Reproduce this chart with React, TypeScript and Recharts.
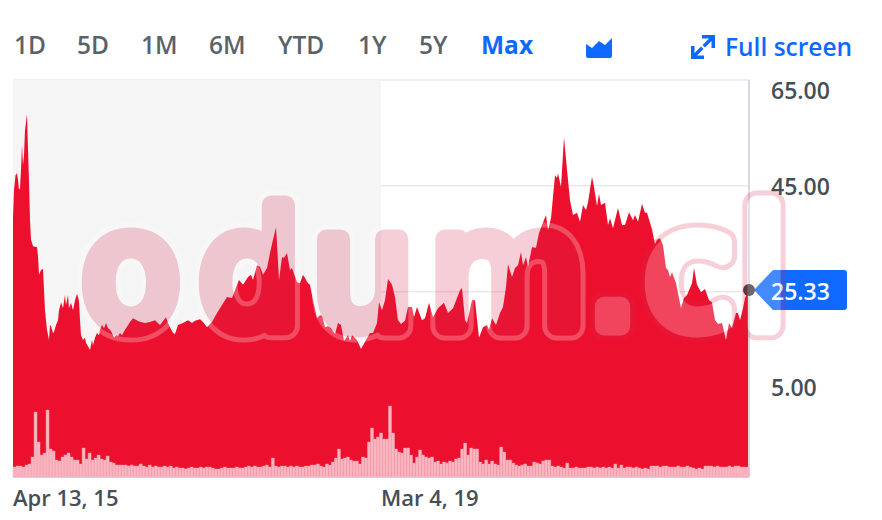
import React from "react";
import {
  Area,
  AreaChart,
  Bar,
  BarChart,
  CartesianGrid,
  ReferenceArea,
  ReferenceDot,
  XAxis,
  YAxis,
} from "recharts";

const RANGES = ["1D", "5D", "1M", "6M", "YTD", "1Y", "5Y", "Max"];
const RANGE_LEFT = [14, 77, 141, 209, 278, 358, 419, 481];
const PRICE_TICKS = [65, 45, 25, 5];
const PERIOD_TICKS = [0, 368];
const PERIOD_LABELS = ["Apr 13, 15", "Mar 4, 19"];

// one period is about four calendar days
const periods = [
  0, 1, 2.5, 4, 5, 6, 7, 8, 9, 10, 11, 12, 14, 15, 16, 17, 18, 20, 24, 25, 26, 28, 30, 31, 32, 33, 34, 36, 37, 38,
  40, 41, 43, 45, 46, 48, 49, 50, 52, 53, 55, 56, 58, 60, 62, 64, 66, 67, 68, 70, 72, 73, 75, 77, 79, 80, 82, 84, 86, 87,
  89, 91, 93, 95, 97, 99, 101, 103, 105, 107, 109, 112, 117, 120, 126, 132, 137, 142, 147, 153, 155, 157, 160, 162, 165, 170, 175, 179, 182, 187,
  190, 194, 199, 204, 209, 214, 219, 222, 226, 230, 235, 238, 240, 244, 247, 250, 254, 257, 260, 263, 264, 266, 269, 271, 274, 277, 279, 284, 287, 290,
  295, 297, 300, 304, 307, 309, 312, 315, 318, 322, 325, 328, 331, 335, 337, 339, 344, 348, 354, 357, 360, 364, 366, 369, 372, 375, 379, 382, 385, 388,
  392, 395, 399, 401, 404, 409, 412, 416, 420, 425, 431, 435, 440, 446, 447, 449, 452, 454, 459, 462, 466, 470, 474, 476, 479, 483, 487, 490, 493, 495,
  499, 502, 505, 508, 510, 513, 515, 519, 523, 526, 529, 533, 535, 538, 542, 544, 545, 548, 551, 554, 557, 560, 564, 567, 570, 573, 575, 579, 581, 584,
  586, 588, 592, 595, 597, 600, 605, 609, 612, 616, 620, 622, 625, 629, 632, 634, 639, 642, 644, 647, 650, 653, 655, 657, 659, 663, 668, 671, 674, 679,
  681, 684, 688, 692, 696, 699, 702, 705, 709, 713, 716, 719, 723, 725, 727, 730, 732, 736,
];

const closes = [
  39, 44.2, 47, 47.4, 46.1, 44.2, 44.6, 48, 52.7, 48.9, 50.8, 55.5, 58.6, 51.8, 46.1, 38.5, 34.8, 33.6, 33.4, 31.7, 28.2, 29.1, 29.3, 25.3, 21.5, 19.6, 17.8, 15.9, 18.7, 18.5,
  17.2, 17.4, 18.7, 19.6, 21.5, 22.9, 22.5, 21.9, 24.4, 22.5, 24.4, 21.9, 22.9, 21.5, 23.4, 24.6, 23.4, 19.6, 16.8, 15.9, 16.3, 15.3, 14.7, 14, 15.9, 14.9, 16.3, 17.2, 16.8, 17.8,
  18.7, 18.1, 19.1, 18.1, 17.8, 17.2, 16.3, 16.8, 16.6, 17.2, 16.8, 17.8, 19.3, 20, 19.4, 19.1, 19.3, 19.6, 18.7, 20.2, 19.1, 18.3, 17.2, 17, 18.7, 19.1, 19.6, 19.1, 19.5, 19.8,
  19.3, 18.3, 19.3, 21, 22.5, 24, 23.8, 25.3, 27.2, 26.3, 27.8, 28.2, 27.2, 30, 29.7, 28.2, 29.5, 32.3, 34.8, 37.2, 34.2, 27.2, 31.5, 31.4, 32.3, 29.1, 29.5, 26.8, 26.6, 28.2,
  26.6, 26.3, 23.4, 20, 20.6, 20.4, 18.3, 18.5, 18.1, 17, 19.1, 18.7, 15.7, 16.8, 15.7, 16.8, 15.9, 14.2, 16.2, 17.2, 17.2, 19.1, 23, 21.5, 23.4, 27.4, 26.3, 24, 19.6, 18.9,
  19.5, 22.1, 22.1, 20.2, 22.1, 19.6, 20, 22.9, 20.2, 21.9, 22.9, 21, 21.9, 24.8, 25.3, 25.7, 19.6, 19.1, 23.4, 23.4, 16.3, 18.3, 18.7, 17.8, 20, 18.7, 21, 22.1, 25.9, 30.2,
  27.8, 29.5, 30, 32.5, 30, 31.5, 29.7, 33.4, 33.3, 36.1, 37.6, 39.5, 36.6, 38.9, 47, 46.5, 47.4, 44.8, 54.2, 48, 42.3, 39.5, 39.9, 38.2, 41.4, 40.4, 41.9, 46.7, 44.8, 41.2,
  43.5, 41.4, 41.8, 37.6, 38.9, 37, 40.8, 37.6, 37.6, 40, 38.5, 39.5, 38.2, 41.6, 39.9, 39.9, 36.8, 34, 34.8, 35.1, 33.8, 29.5, 29.1, 27.8, 28.7, 26.6, 21.9, 23.8, 24.4, 26.6,
  29.5, 26.3, 24.9, 25.5, 23.4, 23, 19.6, 18.9, 19.1, 15.9, 19.1, 18.1, 21, 21, 19.6, 21.9, 23.8, 25.33,
];

// volume in 100k shares, one bar per three periods
const volumes = [
  10, 11, 11, 10, 12, 13, 20, 65, 35, 22, 24, 67, 28, 26, 17, 16, 20, 22, 24, 20, 17, 17, 13, 29, 18, 24, 17, 19, 22, 18,
  17, 21, 15, 14, 12, 12, 12, 12, 11, 12, 11, 11, 13, 11, 10, 12, 10, 11, 10, 10, 11, 10, 11, 9, 10, 9, 9, 8, 9, 10,
  9, 9, 10, 9, 10, 10, 9, 8, 8, 9, 10, 9, 9, 9, 10, 9, 9, 10, 11, 10, 11, 10, 10, 11, 12, 10, 19, 11, 10, 11,
  11, 10, 11, 10, 11, 10, 10, 11, 11, 12, 12, 13, 11, 10, 13, 12, 15, 19, 28, 18, 19, 20, 17, 16, 16, 13, 20, 19, 35, 49,
  38, 40, 44, 38, 38, 71, 44, 28, 25, 24, 29, 29, 22, 14, 20, 27, 22, 20, 19, 20, 15, 16, 13, 15, 14, 16, 15, 18, 19, 28,
  34, 22, 29, 28, 28, 15, 13, 17, 13, 16, 13, 12, 30, 25, 17, 17, 14, 12, 11, 12, 13, 11, 11, 15, 14, 13, 16, 17, 17, 11,
  10, 11, 10, 9, 14, 9, 9, 10, 9, 9, 9, 10, 10, 9, 10, 9, 10, 9, 10, 9, 13, 9, 12, 9, 10, 10, 9, 10, 9, 8,
  9, 8, 11, 11, 11, 10, 11, 11, 10, 10, 10, 11, 10, 10, 11, 10, 9, 8, 9, 8, 11, 11, 11, 10, 11, 10, 10, 10, 11, 10,
  11, 11, 10, 10, 10,
];

const priceRows = periods.map((period, i) => ({ period, close: closes[i] }));
const volumeRows = volumes.map((volume, i) => ({ bar: i, volume }));

const SANS = '"Open Sans", "Noto Sans", sans-serif';
const BLUE = "#0f69ff";
const RED = "#ec102e";
const MARGIN = { top: 80, right: 0, bottom: 0, left: 13 };
const labelOffset: Record<number, number> = { 65: 10, 45: 0, 25: 0, 5: -11 };

const PriceTick = ({ x, y, payload }: any) =>
  payload.value === 25 ? null : (
    <text
      x={x + 14}
      y={y + labelOffset[payload.value]}
      dominantBaseline="central"
      fontFamily={SANS}
      fontSize={23}
      fontWeight={600}
      fill="#464e56"
    >
      {payload.value.toFixed(2)}
    </text>
  );

const PeriodTick = ({ x, y, payload, index }: any) => (
  <text x={x} y={y + 21} fontFamily={SANS} fontSize={22} fontWeight={600} fill="#464e56">
    {PERIOD_LABELS[index] ?? payload.value}
  </text>
);

const LastFlag = ({ cx, cy }: any) => (
  <g>
    <path
      d={`M${cx + 5} ${cy} L${cx + 24} ${cy - 20} H${cx + 95} a3 3 0 0 1 3 3 V${cy + 17} a3 3 0 0 1 -3 3 H${cx + 24} Z`}
      fill={BLUE}
    />
    <text
      x={cx + 22}
      y={cy + 1}
      dominantBaseline="central"
      fontFamily={SANS}
      fontSize={23}
      fontWeight={600}
      fill="#fff"
    >
      {closes[closes.length - 1].toFixed(2)}
    </text>
    <circle cx={cx} cy={cy} r={6} fill="#46393d" />
  </g>
);

const WM_FONT = { fontFamily: '"DejaVu Sans"', fontSize: 158, strokeLinejoin: "round" as const };
const WM_LEFT = "82.5 199.5 313 430.5";
const WM_LEFT2 = "587.5 645.5 742";
const WM_Y = 325.5;
const WM_BODY = 19;
const WM_HALO = 29;

const Watermark = () => (
  <svg width={882} height={520} style={{ position: "absolute", left: 0, top: 0, pointerEvents: "none" }}>
    <defs>
      <mask id="wmOutside" maskUnits="userSpaceOnUse" x={0} y={0} width={882} height={520}>
        <rect width={882} height={520} fill="#fff" />
        <text {...WM_FONT} x={WM_LEFT} y={WM_Y} fill="#000" stroke="#000" strokeWidth={WM_BODY}>odum</text>
        <text {...WM_FONT} x={WM_LEFT2} y={WM_Y} fill="#000" stroke="#000" strokeWidth={WM_BODY}>.cl</text>
      </mask>
    </defs>
    <g mask="url(#wmOutside)">
      <g opacity={0.25}>
        <text {...WM_FONT} x={WM_LEFT} y={WM_Y} fill="none" stroke="#fff" strokeWidth={WM_HALO}>odum</text>
      </g>
      <g opacity={0.22}>
        <text {...WM_FONT} x={WM_LEFT2} y={WM_Y} fill="none" stroke="#da244d" strokeWidth={WM_HALO}>.cl</text>
      </g>
    </g>
    <g opacity={0.22}>
      <text {...WM_FONT} x={WM_LEFT} y={WM_Y} fill="#da244d" stroke="#da244d" strokeWidth={WM_BODY}>odum</text>
    </g>
    <g opacity={0.22}>
      <text {...WM_FONT} x={WM_LEFT2} y={WM_Y} fill="#fff" stroke="#fff" strokeWidth={WM_BODY}>.cl</text>
    </g>
  </svg>
);

const RangeBar = () => (
  <div style={{ fontFamily: SANS, fontSize: 24.5, fontWeight: 600, lineHeight: "32px" }}>
    {RANGES.map((r, i) => (
      <span
        key={r}
        style={{
          position: "absolute",
          left: RANGE_LEFT[i],
          top: 29,
          color: r === "Max" ? BLUE : "#5b636a",
          fontWeight: r === "Max" ? 700 : 600,
        }}
      >
        {r}
      </span>
    ))}
    <span style={{ position: "absolute", left: 725, top: 31, color: BLUE }}>Full screen</span>
    <svg width={882} height={70} style={{ position: "absolute", left: 0, top: 0 }}>
      <path d="M586 44 L592 48 L599 41 L605 45 L612 38 V56 a2 2 0 0 1 -2 2 H588 a2 2 0 0 1 -2 -2 Z" fill={BLUE} />
      <path
        d="M702 35 H715 V48 H711.5 V41 L705 47.5 L702.5 45 L709 38.5 H702 Z M704 59 H691 V46 H694.5 V53 L701 46.5 L703.5 49 L697 55.5 H704 Z"
        fill={BLUE}
      />
    </svg>
  </div>
);

export default function App() {
  return (
    <div style={{ position: "absolute", left: 0, top: 0, width: 882, height: 520, overflow: "hidden" }}>
      <RangeBar />
      <AreaChart width={882} height={520} data={priceRows} margin={MARGIN} style={{ position: "absolute", left: 0, top: 0 }}>
        <ReferenceArea x1={0} x2={368} y1={-10} y2={65} fill="#f5f5f5" fillOpacity={1} stroke="none" />
        <CartesianGrid vertical={false} stroke="#e9e9e9" strokeWidth={1.5} />
        <XAxis
          type="number"
          dataKey="period"
          domain={[0, 736]}
          ticks={PERIOD_TICKS}
          tick={<PeriodTick />}
          tickLine={false}
          axisLine={{ stroke: "#d5d9e6", strokeWidth: 2 }}
          height={43}
          interval={0}
        />
        <YAxis
          orientation="right"
          domain={[-10, 65]}
          ticks={PRICE_TICKS}
          tick={<PriceTick />}
          tickLine={false}
          axisLine={{ stroke: "#d5d9e6", strokeWidth: 2 }}
          width={133}
          interval={0}
        />
        <Area
          dataKey="close"
          type="linear"
          baseValue={-10}
          fill={RED}
          fillOpacity={1}
          stroke="none"
          isAnimationActive={false}
          dot={false}
        />
        <ReferenceDot x={736} y={closes[closes.length - 1]} ifOverflow="visible" shape={<LastFlag />} />
      </AreaChart>
      <BarChart
        width={882}
        height={520}
        data={volumeRows}
        margin={{ top: 80, right: 133, bottom: 43, left: 13 }}
        barCategoryGap={0}
        style={{ position: "absolute", left: 0, top: 0 }}
      >
        <XAxis dataKey="bar" hide />
        <YAxis hide domain={[0, 397]} />
        <Bar dataKey="volume" fill="#f8b6c0" stroke="#f5a3b0" strokeWidth={0.4} isAnimationActive={false} />
      </BarChart>
      <Watermark />
    </div>
  );
}
